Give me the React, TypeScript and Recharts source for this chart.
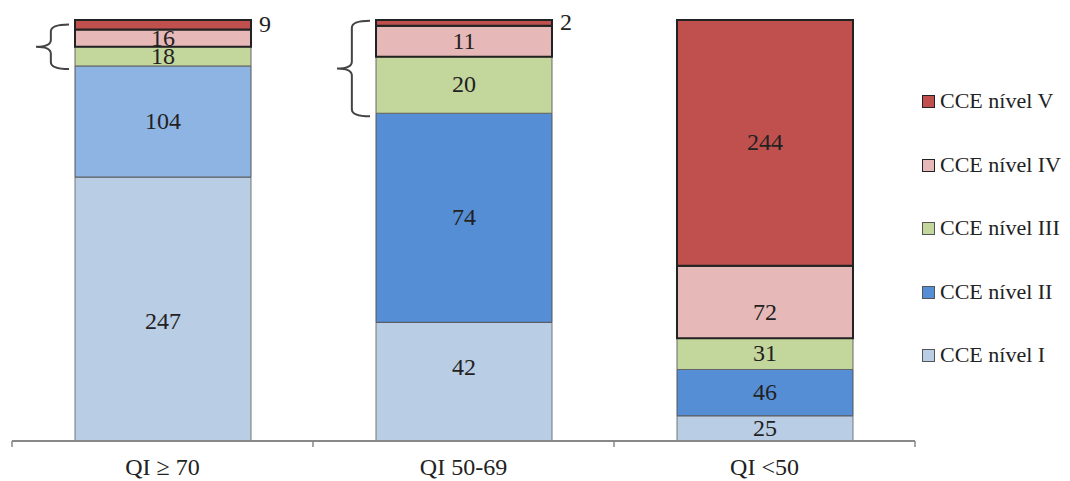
import React from "react";
import { BarChart, Bar, XAxis, YAxis, LabelList, Cell, Rectangle } from "recharts";

const CATEGORIES = ["QI ≥ 70", "QI 50-69", "QI <50"];
const NIVEL_I = [247, 42, 25];
const NIVEL_II = [104, 74, 46];
const NIVEL_III = [18, 20, 31];
const NIVEL_IV = [16, 11, 72];
const NIVEL_V = [9, 2, 244];

const LEVEL_KEYS = ["I", "II", "III", "IV", "V"];
const LEVEL_NAMES = ["CCE nível I", "CCE nível II", "CCE nível III", "CCE nível IV", "CCE nível V"];
const FILLS: Record<string, string> = {
  I: "#B9CDE5",
  II: "#558ED5",
  III: "#C3D69B",
  IV: "#E6B9B8",
  V: "#C0504D",
};
// first category uses a lighter blue for level II
const FILL_II = ["#8EB4E3", "#558ED5", "#558ED5"];
const STROKES: Record<string, string> = { I: "#777", II: "#555", III: "#666", IV: "#222", V: "#222" };
// categories marked with a brace around levels III + IV
const BRACED = ["QI ≥ 70", "QI 50-69"];

const data = CATEGORIES.map((name, i) => ({
  name,
  I: NIVEL_I[i],
  II: NIVEL_II[i],
  III: NIVEL_III[i],
  IV: NIVEL_IV[i],
  V: NIVEL_V[i],
}));

const FONT = "'Liberation Serif', 'Times New Roman', serif";

// manual nudges of a few labels, like the original
const LABEL_SHIFT: Record<string, number> = { "0-I": 12, "1-I": -14, "2-IV": 10 };

const makeLabel = (key: string) => (p: any) => {
  const { x, y, width, height, value, index } = p;
  if (height < 14) {
    return (
      <text x={x + width + 8} y={y + height / 2 + 2} fontSize={24} fontFamily={FONT} fill="#222" dominantBaseline="middle">
        {value}
      </text>
    );
  }
  const shift = LABEL_SHIFT[`${index}-${key}`] || 0;
  return (
    <text
      x={x + width / 2}
      y={y + height / 2 + shift + 2}
      fontSize={24}
      fontFamily={FONT}
      fill="#222"
      textAnchor="middle"
      dominantBaseline="middle"
    >
      {value}
    </text>
  );
};

const BraceShape = (p: any) => {
  const { x, y, width, height, payload } = p;
  const rect = <Rectangle x={x} y={y} width={width} height={height} fill={FILLS.III} stroke={STROKES.III} strokeWidth={1} />;
  if (!payload || !BRACED.includes(payload.name)) return rect;
  const perUnit = height / payload.III;
  const top = y - payload.IV * perUnit - 5;
  const bottom = y + height + 3;
  const right = x - 6;
  const w = 33;
  const mx = right - w * 0.55;
  const left = right - w;
  const ym = (top + bottom) / 2;
  const r = 7;
  const d = `M${right},${top} Q${mx},${top} ${mx},${top + r} L${mx},${ym - r} Q${mx},${ym} ${left},${ym} Q${mx},${ym} ${mx},${ym + r} L${mx},${bottom - r} Q${mx},${bottom} ${right},${bottom}`;
  return (
    <g>
      {rect}
      <path d={d} fill="none" stroke="#444" strokeWidth={2} />
    </g>
  );
};

const AxisTick = (p: any) => {
  const { x, y, payload, index, width, visibleTicksCount } = p;
  const band = width / visibleTicksCount;
  const lx = x - band / 2;
  return (
    <g>
      <line x1={lx} y1={y - 8} x2={lx} y2={y - 2} stroke="#888" strokeWidth={1.5} />
      {index === visibleTicksCount - 1 && (
        <line x1={x + band / 2} y1={y - 8} x2={x + band / 2} y2={y - 2} stroke="#888" strokeWidth={1.5} />
      )}
      <text x={x} y={y + 20} fontSize={24} fontFamily={FONT} fill="#222" textAnchor="middle" dominantBaseline="middle">
        {payload.value}
      </text>
    </g>
  );
};

const LegendBox = () => (
  <div style={{ position: "absolute", left: 922, top: 87, fontFamily: FONT, fontSize: 22, color: "#222" }}>
    {LEVEL_KEYS.slice()
      .reverse()
      .map((k) => {
        const i = LEVEL_KEYS.indexOf(k);
        return (
          <div key={k} style={{ height: 63.5, display: "flex", alignItems: "flex-start" }}>
            <div
              style={{
                width: 11,
                height: 11,
                marginTop: 8,
                marginRight: 5,
                background: FILLS[k],
                border: `1.5px solid ${k === "IV" || k === "V" ? "#222" : "#555"}`,
              }}
            />
            <span style={{ lineHeight: "28px", whiteSpace: "nowrap" }}>{LEVEL_NAMES[i]}</span>
          </div>
        );
      })}
  </div>
);

export default function App() {
  return (
    <div style={{ position: "relative", width: 1070, height: 481, background: "#fff" }}>
      <style>{`body{margin:0}`}</style>
      <BarChart
        width={1070}
        height={481}
        data={data}
        stackOffset="expand"
        margin={{ top: 20, right: 155, bottom: 10, left: 12 }}
        barSize={176}
      >
        <XAxis
          dataKey="name"
          height={30}
          axisLine={{ stroke: "#888", strokeWidth: 2 }}
          tickLine={false}
          tick={<AxisTick />}
          interval={0}
        />
        <YAxis hide domain={[0, 1]} />
        <Bar dataKey="I" stackId="a" fill={FILLS.I} stroke={STROKES.I} strokeWidth={1} isAnimationActive={false}>
          <LabelList dataKey="I" content={makeLabel("I")} />
        </Bar>
        <Bar dataKey="II" stackId="a" fill={FILLS.II} stroke={STROKES.II} strokeWidth={1} isAnimationActive={false}>
          {data.map((d, i) => (
            <Cell key={d.name} fill={FILL_II[i]} />
          ))}
          <LabelList dataKey="II" content={makeLabel("II")} />
        </Bar>
        <Bar dataKey="III" stackId="a" fill={FILLS.III} shape={<BraceShape />} isAnimationActive={false}>
          <LabelList dataKey="III" content={makeLabel("III")} />
        </Bar>
        <Bar dataKey="IV" stackId="a" fill={FILLS.IV} stroke={STROKES.IV} strokeWidth={2} isAnimationActive={false}>
          <LabelList dataKey="IV" content={makeLabel("IV")} />
        </Bar>
        <Bar dataKey="V" stackId="a" fill={FILLS.V} stroke={STROKES.V} strokeWidth={2} isAnimationActive={false}>
          <LabelList dataKey="V" content={makeLabel("V")} />
        </Bar>
      </BarChart>
      <LegendBox />
    </div>
  );
}
